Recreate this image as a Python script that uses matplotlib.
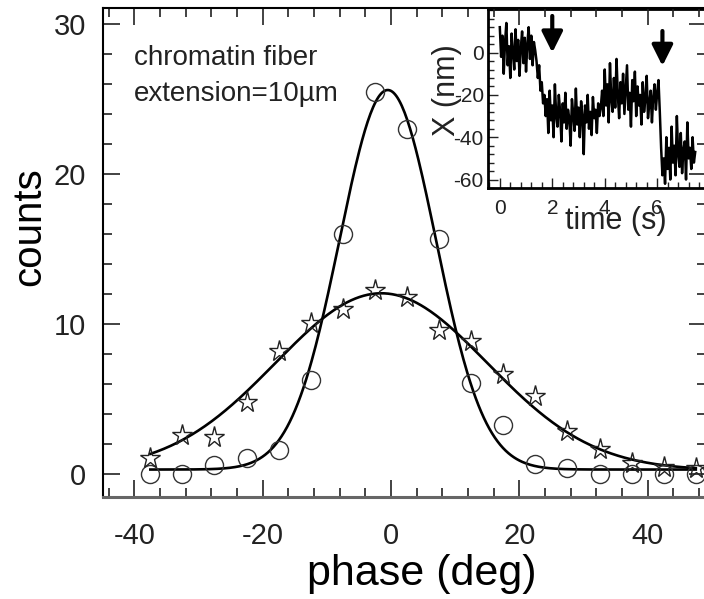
import numpy as np
import matplotlib
matplotlib.use("Agg")
import matplotlib.pyplot as plt
from matplotlib.ticker import MultipleLocator, FixedLocator

plt.rcParams['font.family'] = ['Liberation Sans', 'DejaVu Sans']
plt.rcParams['axes.unicode_minus'] = False

# histogram points: phase (deg) vs counts
phase = [-37.5, -32.5, -27.5, -22.5, -17.5, -12.5, -7.5, -2.5, 2.5,
         7.5, 12.5, 17.5, 22.5, 27.5, 32.5, 37.5, 42.5, 47.5]
counts_circ = [0.0, 0.0, 0.6, 1.1, 1.6, 6.3, 16.0, 25.5, 23.0,
               15.7, 6.05, 3.3, 0.65, 0.4, 0.0, 0.0, 0.0, 0.0]
counts_star = [1.05, 2.6, 2.5, 4.8, 8.2, 10.05, 11.0, 12.3, 11.8,
               9.6, 8.9, 6.7, 5.2, 2.9, 1.65, 0.75, 0.5, 0.4]

# gaussian fit parameters (amplitude, centre, sigma, offset)
fit_circ = (25.3, -0.5, 7.5, 0.3)
fit_star = (11.8, -1.5, 16.5, 0.25)

# inset trace: X (nm) every 0.05 s
trace_x = [12, -2, 8, -10, 5, 14, -6, 3, -12, 9, 0, -8, 11, -4, 6, -11, 2, 10, -5, 7,
           -9, 4, 12, -3, 8, -6, 5, 1,
           -4, -12, -6, -18, -14, -24, -20, -30,
           -22, -38, -18, -32, -25, -40, -15, -30, -35, -20, -28, -42, -24, -33, -19, -36,
           -27, -31, -44, -22, -29, -37, -17, -34, -26, -40, -23, -30, -48, -25, -33, -20,
           -36, -28, -39, -21, -31, -27, -38, -24, -30, -26,
           -18, -30, -8, -25, -15, -33, -5, -22, -28, -12, -26, -3, -20, -31, -14, -24,
           -10, -29, -17, -6, -27, -19, -35, -13, -23, -9, -30, -16, -25, -20, -34, -14,
           -28, -22, -11, -31, -24, -18, -33, -21, -15, -27, -19, -13,
           -28, -45, -58,
           -50, -62, -40, -55, -45, -60, -35, -52, -44, -58, -30, -48, -54, -38, -57, -46,
           -42, -60, -33, -50, -45, -55, -40, -52, -47]
trace_t = np.arange(len(trace_x)) * 0.05
arrow_t = [2.0, 6.2]
arrow_top = [17.3, 10.2]
arrow_tip = [0.0, -6.3]


def gauss(x, p):
    a, c, s, y0 = p
    return a * np.exp(-(x - c) ** 2 / (2 * s ** 2)) + y0


fig = plt.figure(figsize=(7.04, 5.99), dpi=100)
ax = fig.add_axes([0.1459, 0.1703, 0.857, 0.8164])
ax.set_zorder(2)
ax.patch.set_alpha(0)

xs = np.linspace(phase[0], phase[-1], 400)
ax.plot(xs, gauss(xs, fit_circ), color='black', lw=1.9, zorder=3)
ax.plot(xs, gauss(xs, fit_star), color='black', lw=1.9, zorder=3)
ax.plot(phase, counts_circ, 'o', ms=13, mfc='none', mec='#333333', mew=1.0, zorder=4)
ax.plot(phase, counts_star, '*', ms=15.5, mfc='none', mec='#222222', mew=1.0, zorder=4)

ax.set_xlim(-44.92, 49.1)
ax.set_ylim(-1.53, 31.07)
ax.xaxis.set_major_locator(MultipleLocator(20))
ax.xaxis.set_minor_locator(MultipleLocator(4))
ax.yaxis.set_major_locator(MultipleLocator(10))
ax.yaxis.set_minor_locator(MultipleLocator(2))
ax.tick_params(which='both', direction='in', top=True, right=True, width=1.2,
               colors='#222222', labelcolor='#222222')
ax.tick_params(which='major', length=12)
ax.tick_params(which='minor', length=6.5)
ax.tick_params(axis='x', which='major', labelsize=21, pad=18)
ax.tick_params(axis='y', which='major', labelsize=21, pad=12)
for sp in ax.spines.values():
    sp.set_linewidth(1.5)
ax.spines['bottom'].set_color('#666666')
ax.spines['bottom'].set_linewidth(2.2)

ax.text(-40.0, 27.3, 'chromatin fiber', fontsize=20, color='#222222', va='baseline')
ax.text(-40.0, 24.9, 'extension=10\u00b5m', fontsize=20, color='#222222', va='baseline')

fig.text(421.5 / 704, 1 - 585 / 599, 'phase (deg)', fontsize=31, ha='center', va='baseline')
fig.text(29 / 704, 1 - 226.5 / 599, 'counts', fontsize=29, rotation=90, ha='center', va='center')

# inset
ax_in = fig.add_axes([488 / 704, 1 - 188 / 599, (712 - 488) / 704, (188 - 9) / 599])
ax_in.set_zorder(1)
ax_in.plot(trace_t, trace_x, color='black', lw=1.8)
for t, y1, y2 in zip(arrow_t, arrow_top, arrow_tip):
    ax_in.annotate('', xy=(t, y2), xytext=(t, y1),
                   arrowprops=dict(arrowstyle='-|>,head_width=0.35,head_length=0.7',
                                   lw=3, color='black', shrinkA=0, shrinkB=0,
                                   mutation_scale=18))
ax_in.set_xlim(-0.45, 8.09)
ax_in.set_ylim(-64.0, 20.6)
ax_in.xaxis.set_major_locator(MultipleLocator(2))
ax_in.xaxis.set_minor_locator(MultipleLocator(0.4))
ax_in.yaxis.set_major_locator(FixedLocator([-60, -40, -20, 0]))
ax_in.yaxis.set_minor_locator(MultipleLocator(4))
ax_in.tick_params(which='both', direction='in', top=False, right=False, width=1.0,
                  labelsize=15, colors='#222222')
ax_in.tick_params(which='major', length=7)
ax_in.tick_params(which='minor', length=4)
ax_in.tick_params(axis='x', pad=8)
ax_in.tick_params(axis='y', pad=3)
for sp in ax_in.spines.values():
    sp.set_linewidth(2)
ax_in.spines['right'].set_visible(False)
fig.text(615.8 / 704, 1 - 221 / 599, 'time (s)', fontsize=22, ha='center', va='center',
         color='#222222', zorder=5)
fig.text(447 / 704, 1 - 90 / 599, 'X (nm)', fontsize=22, rotation=90, ha='center', va='center',
         color='#222222')

fig.savefig('out.png', dpi=100)
